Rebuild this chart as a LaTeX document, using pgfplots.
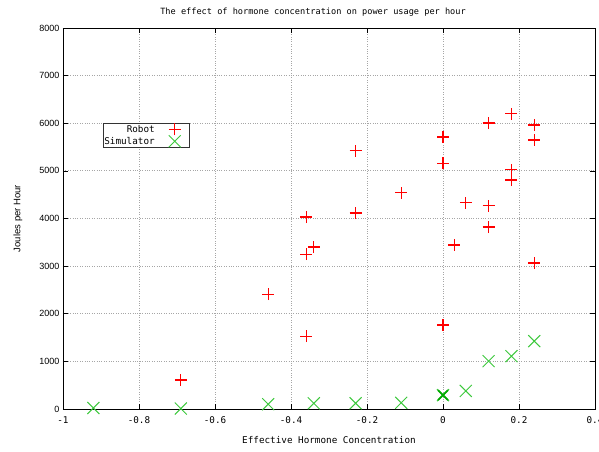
\documentclass[border=0pt]{standalone}
\usepackage{pgfplots}
\pgfplotsset{compat=1.18}
\usepackage{fontspec}
\setmainfont{Liberation Sans}
\setmonofont{DejaVu Sans Mono}
\definecolor{rbt}{RGB}{255,0,0}
\definecolor{sim}{RGB}{60,200,60}
\definecolor{simdark}{RGB}{0,170,0}
\pgfdeclareplotmark{rplus}{%
  \pgfsetstrokecolor{rbt}%
  \pgfpathmoveto{\pgfqpoint{-\pgfplotmarksize}{0pt}}\pgfpathlineto{\pgfqpoint{\pgfplotmarksize}{0pt}}%
  \pgfpathmoveto{\pgfqpoint{0pt}{-\pgfplotmarksize}}\pgfpathlineto{\pgfqpoint{0pt}{\pgfplotmarksize}}%
  \pgfusepathqstroke}
\pgfdeclareplotmark{gcross}{%
  \pgfsetstrokecolor{sim}%
  \pgfpathmoveto{\pgfqpoint{-\pgfplotmarksize}{-\pgfplotmarksize}}\pgfpathlineto{\pgfqpoint{\pgfplotmarksize}{\pgfplotmarksize}}%
  \pgfpathmoveto{\pgfqpoint{-\pgfplotmarksize}{\pgfplotmarksize}}\pgfpathlineto{\pgfqpoint{\pgfplotmarksize}{-\pgfplotmarksize}}%
  \pgfusepathqstroke}
\pgfdeclareplotmark{gcrossdark}{%
  \pgfsetstrokecolor{simdark}%
  \pgfpathmoveto{\pgfqpoint{-\pgfplotmarksize}{-\pgfplotmarksize}}\pgfpathlineto{\pgfqpoint{\pgfplotmarksize}{\pgfplotmarksize}}%
  \pgfpathmoveto{\pgfqpoint{-\pgfplotmarksize}{\pgfplotmarksize}}\pgfpathlineto{\pgfqpoint{\pgfplotmarksize}{-\pgfplotmarksize}}%
  \pgfusepathqstroke}
\pgfplotsset{mylegend/.style={legend image code/.code={\path[##1, mark repeat=2, mark phase=2] plot coordinates {(0pt,0pt)(19pt,0pt)(34pt,0pt)};}}}
\begin{document}
\begin{tikzpicture}
\begin{axis}[
  at={(0,0)}, anchor=south west,
  scale only axis, width=532pt, height=381pt,
  xmin=-1, xmax=0.4, ymin=0, ymax=8000,
  xtick={-1,-0.8,-0.6,-0.4,-0.2,0,0.2,0.4},
  xticklabels={-1,-0.8,-0.6,-0.4,-0.2,0,0.2,0.4},
  ytick={0,1000,2000,3000,4000,5000,6000,7000,8000},
  yticklabels={0,1000,2000,3000,4000,5000,6000,7000,8000},
  scaled y ticks=false,
  tick align=inside, tickpos=both,
  major tick length=5pt,
  tick style={black, line width=0.6pt},
  axis line style={black, line width=0.8pt},
  grid=major,
  grid style={gray!70, dotted, line width=0.8pt},
  xticklabel style={font=\fontsize{9.3}{10}\ttfamily, yshift=-4pt},
  yticklabel style={font=\fontsize{9}{10}\selectfont},
  title={The effect of hormone concentration on power usage per hour},
  title style={font=\fontsize{8.6}{10}\ttfamily, at={(axis description cs:0.47,1.026)}, anchor=center},
  xlabel={Effective Hormone Concentration},
  xlabel style={font=\fontsize{9.3}{10}\ttfamily, at={(axis description cs:0.5,-0.081)}, anchor=center},
  ylabel={Joules per Hour},
  ylabel style={font=\fontsize{9.5}{10}\selectfont, at={(axis description cs:-0.0846,0.5)}, anchor=center, rotate=0},
  legend style={at={(axis description cs:0.239,0.751)}, anchor=north east,
    font=\fontsize{9.3}{10}\ttfamily, draw=black!80, line width=0.8pt,
    inner sep=0pt, row sep=0pt, nodes={inner sep=1pt}},
  legend plot pos=right,
  legend cell align=right,
]
\addplot[draw=none, mark=rplus, mark size=6pt, line width=1.2pt, mylegend] coordinates {
(-0.69,610) (-0.46,2410) (-0.36,1530) (-0.36,3250) (-0.36,4030) (-0.34,3400)
(-0.23,4115) (-0.23,5420) (-0.11,4540) (0,1765) (0,5160) (0,5710)
(0.03,3445) (0.06,4330) (0.12,4265) (0.12,3820) (0.12,6005)
(0.18,6200) (0.18,5025) (0.18,4810) (0.24,5965) (0.24,5650) (0.24,3065)
};
\addlegendentry{Robot}
\addplot[draw=none, mark=gcross, mark size=6pt, line width=1pt, mylegend] coordinates {
(-0.92,20) (-0.69,10) (-0.46,100) (-0.34,120) (-0.23,120) (-0.11,130)
(0,290) (0.06,380) (0.12,1005) (0.18,1110) (0.24,1425)
};
\addlegendentry{Simulator}
\addplot[draw=none, mark=gcrossdark, mark size=5pt, line width=1.8pt, forget plot] coordinates {
(0,290)
};
\end{axis}
\pgfresetboundingbox
\path[use as bounding box] (-63pt,-42pt) rectangle (536pt,409pt);
\end{tikzpicture}
\end{document}
